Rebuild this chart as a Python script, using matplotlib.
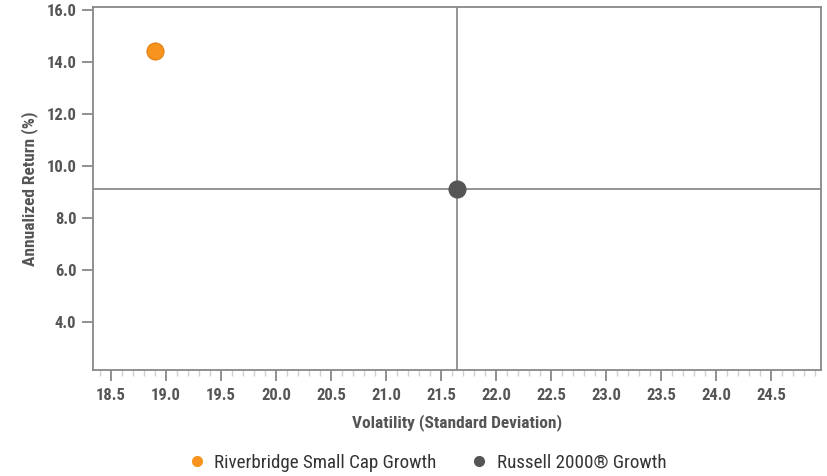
import matplotlib
matplotlib.use("Agg")
import matplotlib.pyplot as plt
from matplotlib import font_manager
from matplotlib.ticker import MultipleLocator, FormatStrFormatter
from matplotlib.lines import Line2D

available = {f.name for f in font_manager.fontManager.ttflist}
prefs = ['Roboto Condensed', 'Liberation Sans Narrow', 'Open Sans Condensed',
         'DejaVu Sans Condensed']
family = [p for p in prefs if p in available] + ['DejaVu Sans']
plt.rcParams['font.family'] = family
plt.rcParams['font.stretch'] = 'condensed'

names = ["Riverbridge Small Cap Growth", "Russell 2000® Growth"]
volatility = [18.9, 21.65]
returns = [14.42, 9.12]
colors = ["#F7931E", "#555555"]
edge_colors = ["#E07F10", "#555555"]
x_ticks = [18.5, 19.0, 19.5, 20.0, 20.5, 21.0, 21.5, 22.0, 22.5, 23.0, 23.5, 24.0, 24.5]
y_ticks = [4.0, 6.0, 8.0, 10.0, 12.0, 14.0, 16.0]

fig = plt.figure(figsize=(8.27, 4.76), dpi=100)
ax = fig.add_axes([93/827, 1 - 370/476, (821 - 93)/827, (370 - 7)/476])

ax.set_xlim(18.336, 24.955)
ax.set_ylim(2.15, 16.12)

ax.axvline(volatility[1], color="#777777", lw=1.1, zorder=1)
ax.axhline(returns[1], color="#777777", lw=1.1, zorder=1)

for x, y, c, ec in zip(volatility, returns, colors, edge_colors):
    ax.scatter([x], [y], s=150, color=c, edgecolor=ec, linewidth=0.8, zorder=3)

ax.set_xticks(x_ticks)
ax.set_yticks(y_ticks)
ax.xaxis.set_major_formatter(FormatStrFormatter('%.1f'))
ax.yaxis.set_major_formatter(FormatStrFormatter('%.1f'))
ax.xaxis.set_minor_locator(MultipleLocator(0.1))

txt = "#555555"
ax.tick_params(axis='x', which='major', length=8, width=1.3, color="#888888",
               labelsize=12, labelcolor=txt, pad=5)
ax.tick_params(axis='x', which='minor', length=4, width=1.0, color="#d0d0d0")
ax.tick_params(axis='y', which='major', length=8, width=1.3, color="#888888",
               labelsize=12, labelcolor=txt, pad=4)
for lab in ax.get_xticklabels() + ax.get_yticklabels():
    lab.set_fontweight('bold')

for s in ax.spines.values():
    s.set_color("#888888")
    s.set_linewidth(1.3)

ax.set_xlabel("Volatility (Standard Deviation)", fontsize=12.5, fontweight='bold',
              color=txt, labelpad=8)
ax.set_ylabel("Annualized Return (%)", fontsize=12.5, fontweight='bold',
              color=txt, labelpad=6)

handles = [Line2D([0], [0], marker='o', linestyle='none', markersize=7,
                  markerfacecolor=c, markeredgecolor=c) for c in colors]
fig.legend(handles, names, loc='center', bbox_to_anchor=(426/827, 1 - 463/476),
           ncol=2, frameon=False, fontsize=13.7, labelcolor="#333333",
           handlelength=1.2, handletextpad=0.3, columnspacing=1.65)

fig.savefig("out.png", dpi=100)
